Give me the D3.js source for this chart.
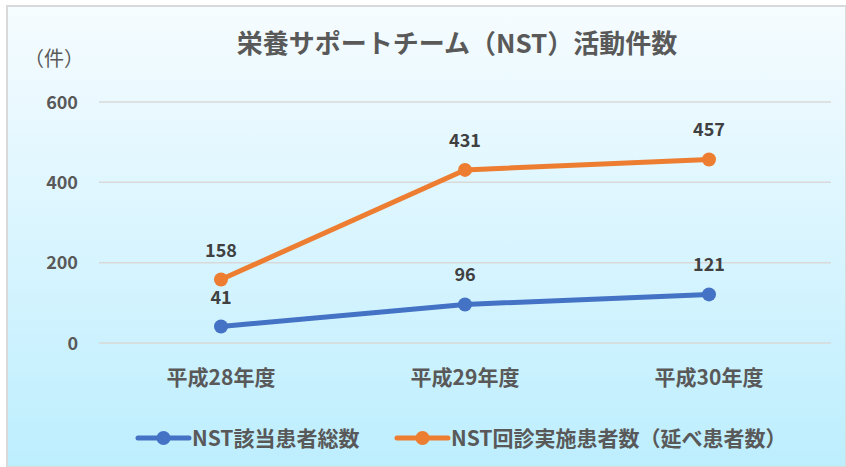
<!DOCTYPE html>
<html>
<head>
<meta charset="utf-8">
<script src="https://cdn.jsdelivr.net/npm/d3@7"></script>
<style>
  body { margin: 0; background: #fff; }
  text { font-family: "Noto Sans CJK JP", "Noto Sans", sans-serif; }
</style>
</head>
<body>
<div id="chart"></div>
<script>
// データ
const categories = ["平成28年度", "平成29年度", "平成30年度"];
const seriesNames = ["NST該当患者総数", "NST回診実施患者数（延べ患者数）"];
const totalPatients = [41, 96, 121];
const roundPatients = [158, 431, 457];
const yTicks = [0, 200, 400, 600];

const width = 846, height = 467;
const colors = ["#4472C4", "#ED7D31"];

const svg = d3.select("#chart").append("svg")
  .attr("width", width)
  .attr("height", height);

// 背景グラデーション
const defs = svg.append("defs");
const grad = defs.append("linearGradient")
  .attr("id", "bg").attr("x1", 0).attr("y1", 0).attr("x2", 0).attr("y2", 1);
grad.append("stop").attr("offset", "0%").attr("stop-color", "#f6fcff");
grad.append("stop").attr("offset", "100%").attr("stop-color", "#bdeefe");

svg.append("rect")
  .attr("x", 7).attr("y", 6)
  .attr("width", width - 7).attr("height", height - 6)
  .attr("fill", "url(#bg)")
  .attr("stroke", "#d9d9d9")
  .attr("stroke-width", 2);

// タイトル
svg.append("text")
  .attr("x", 457).attr("y", 53)
  .attr("text-anchor", "middle")
  .style("font-size", "26px")
  .style("font-weight", "bold")
  .style("fill", "#595959")
  .text("栄養サポートチーム（NST）活動件数");

svg.append("text")
  .attr("x", 24).attr("y", 66)
  .style("font-size", "20px")
  .style("fill", "#595959")
  .text("（件）");

const x = d3.scaleBand().domain(categories).range([99, 831]);
const y = d3.scaleLinear().domain([0, 600]).range([343, 102]);

// グリッド線
svg.append("g").selectAll("line")
  .data(yTicks).enter().append("line")
  .attr("x1", 99).attr("x2", 831)
  .attr("y1", d => y(d)).attr("y2", d => y(d))
  .attr("stroke", "#d9d9d9").attr("stroke-width", 1.5);

// y軸ラベル
svg.append("g").selectAll("text")
  .data(yTicks).enter().append("text")
  .attr("x", 78).attr("y", d => y(d) + 6.5)
  .attr("text-anchor", "end")
  .style("font-size", "18px")
  .style("font-weight", "bold")
  .style("fill", "#595959")
  .text(d => d);

// x軸ラベル
svg.append("g").selectAll("text")
  .data(categories).enter().append("text")
  .attr("x", d => x(d) + x.bandwidth() / 2).attr("y", 385)
  .attr("text-anchor", "middle")
  .style("font-size", "21px")
  .style("font-weight", "bold")
  .style("fill", "#595959")
  .text(d => d);

const series = [totalPatients, roundPatients];
const line = d3.line()
  .x((d, i) => x(categories[i]) + x.bandwidth() / 2)
  .y(d => y(d));

series.forEach((vals, si) => {
  const g = svg.append("g");
  g.append("path")
    .datum(vals)
    .attr("d", line)
    .attr("fill", "none")
    .attr("stroke", colors[si])
    .attr("stroke-width", 5)
    .attr("stroke-linecap", "round");
  g.selectAll("circle")
    .data(vals).enter().append("circle")
    .attr("cx", (d, i) => x(categories[i]) + x.bandwidth() / 2)
    .attr("cy", d => y(d))
    .attr("r", 7)
    .attr("fill", colors[si]);
  g.selectAll("text")
    .data(vals).enter().append("text")
    .attr("x", (d, i) => x(categories[i]) + x.bandwidth() / 2)
    .attr("y", d => y(d) - 23)
    .attr("text-anchor", "middle")
    .style("font-size", "18px")
    .style("font-weight", "bold")
    .style("fill", "#404040")
    .text(d => d);
});

// 凡例
const legendX = [138, 397];
seriesNames.forEach((name, i) => {
  const g = svg.append("g").attr("transform", "translate(" + legendX[i] + ",438)");
  g.append("line")
    .attr("x1", 0).attr("x2", 51)
    .attr("stroke", colors[i]).attr("stroke-width", 5)
    .attr("stroke-linecap", "round");
  g.append("circle").attr("cx", 25.5).attr("r", 7).attr("fill", colors[i]);
  g.append("text")
    .attr("x", 54).attr("y", 7.5)
    .style("font-size", "21px")
    .style("font-weight", "bold")
    .style("fill", "#595959")
    .text(name);
});
</script>
</body>
</html>
